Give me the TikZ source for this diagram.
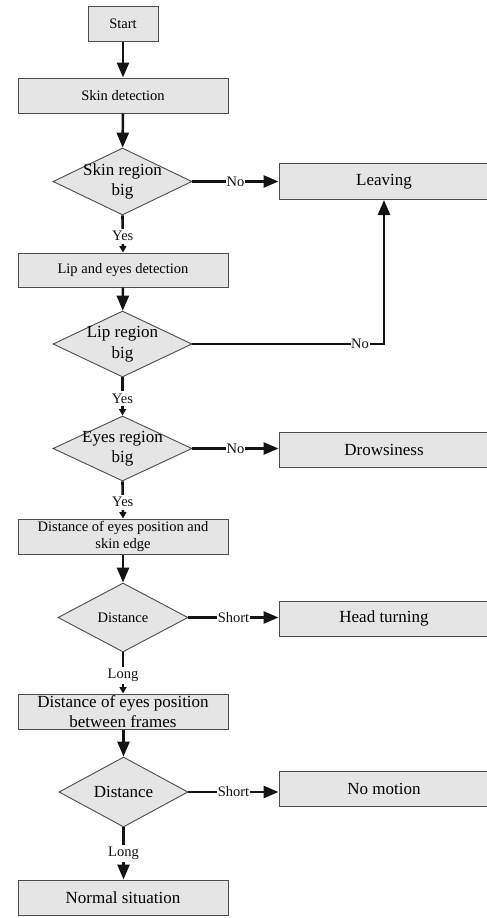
\documentclass[tikz,border=0pt]{standalone}
\usepackage{fontspec}
\setmainfont{Liberation Serif}
\usetikzlibrary{arrows.meta,shapes.geometric}
\definecolor{boxfill}{gray}{0.9}
\definecolor{boxline}{gray}{0.3}
\definecolor{conn}{gray}{0.08}
\newcommand{\smallf}{\fontsize{14.5}{17}\selectfont}
\newcommand{\bigf}{\fontsize{17}{20.5}\selectfont}
\begin{document}
\begin{tikzpicture}[x=1pt,y=-1pt,
  procbox/.style={draw=boxline,line width=1pt,fill=boxfill,rectangle,inner sep=0pt,minimum width=210pt,minimum height=35pt,align=center},
  decbox/.style={draw=boxline,line width=0.9pt,fill=boxfill,diamond,inner sep=0pt},
  dtext/.style={inner sep=0pt,align=center},
  conline/.style={draw=conn,line width=2.6pt},
  bigarrow/.style={conline,-{Triangle[length=15pt,width=12pt]}},
  smallarrow/.style={conline,-{Triangle[length=6.5pt,width=7pt]}},
  lab/.style={fill=white,inner xsep=0.6pt,inner ysep=2.5pt,font=\smallf,text=conn}
]
\useasboundingbox (0,0) rectangle (487,918);

% process boxes
\node[procbox,minimum width=70pt,font=\smallf] (start) at (123,23.5) {Start};
\node[procbox,font=\smallf] (skin) at (123,95.5) {Skin detection};
\node[procbox,minimum height=36pt,font=\bigf] (leave) at (384,181.5) {Leaving};
\node[procbox,minimum height=34pt,font=\smallf] (lip) at (123,270) {Lip and eyes detection};
\node[procbox,font=\bigf] (drows) at (384,449.5) {Drowsiness};
\node[procbox,font=\smallf] (dist1) at (123,536.5) {Distance of eyes position and\\skin edge};
\node[procbox,font=\bigf] (head) at (384,618.5) {Head turning};
\node[procbox,font=\bigf] (dist2) at (123,711.5) {Distance of eyes position\\between frames};
\node[procbox,font=\bigf] (nomo) at (384,788.5) {No motion};
\node[procbox,font=\bigf] (normal) at (123,897.5) {Normal situation};

% decision diamonds
\node[decbox,minimum width=139pt,minimum height=67pt] (d1) at (122.5,181.5) {};
\node[dtext,font=\bigf] (t1) at (d1.center) {Skin region\\big};
\node[decbox,minimum width=139pt,minimum height=66pt] (d2) at (122.5,344) {};
\node[dtext,font=\bigf] (t2) at (d2.center) {Lip region\\big};
\node[decbox,minimum width=139pt,minimum height=65pt] (d3) at (122.5,448.5) {};
\node[dtext,font=\bigf] (t3) at (d3.center) {Eyes region\\big};
\node[decbox,minimum width=130pt,minimum height=69pt] (d4) at (123,617.5) {};
\node[dtext,font=\smallf] (t4) at (d4.center) {Distance};
\node[decbox,minimum width=129pt,minimum height=70pt] (d5) at (123.5,792) {};
\node[dtext,font=\bigf] (t5) at (d5.center) {Distance};

% connectors
\draw[bigarrow] (start) -- (skin);
\draw[bigarrow] (skin) -- (d1);
\draw[bigarrow] (d1.east) -- node[lab] {No} (leave.west);
\draw[smallarrow] (d1.south) -- node[lab,pos=0.56] {Yes} (lip.north);
\draw[bigarrow] (lip) -- (d2);
\draw[bigarrow] (d2.east) -- node[lab,pos=0.875] {No} (leave.south |- d2.east) -- (leave.south);
\draw[smallarrow] (d2.south) -- node[lab,pos=0.56] {Yes} (d3.north);
\draw[bigarrow] (d3.east) -- node[lab] {No} (d3.east -| drows.west);
\draw[smallarrow] (d3.south) -- node[lab,pos=0.56] {Yes} (dist1.north);
\draw[bigarrow] (dist1) -- (d4);
\draw[bigarrow] (d4.east) -- node[lab] {Short} (d4.east -| head.west);
\draw[smallarrow] (d4.south) -- node[lab,pos=0.56] {Long} (dist2.north);
\draw[bigarrow] (dist2.south -| d5.north) -- (d5.north);
\draw[bigarrow] (d5.east) -- node[lab] {Short} (d5.east -| nomo.west);
\draw[bigarrow] (d5.south) -- node[lab] {Long} (d5.south |- normal.north);
\end{tikzpicture}
\end{document}
